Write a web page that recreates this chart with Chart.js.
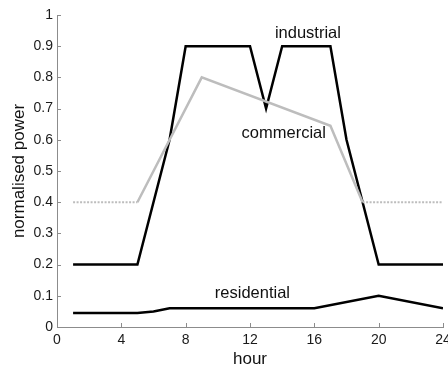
<!DOCTYPE html>
<html>
<head>
<meta charset="utf-8">
<script src="https://cdn.jsdelivr.net/npm/chart.js@4"></script>
<style>
html,body{margin:0;padding:0;background:#fff;}
#wrap{width:448px;height:365px;position:relative;}
</style>
</head>
<body>
<div id="wrap"><canvas id="c" width="448" height="365"></canvas></div>
<script>
const xTicks = [0, 4, 8, 12, 16, 20, 24];
const yTicks = [0, 0.1, 0.2, 0.3, 0.4, 0.5, 0.6, 0.7, 0.8, 0.9, 1];

const industrialHours = [1, 5, 7, 8, 12, 13, 14, 17, 18, 20, 24];
const industrialValues = [0.2, 0.2, 0.6, 0.9, 0.9, 0.7, 0.9, 0.9, 0.6, 0.2, 0.2];

const commercialHours = [1, 5, 9, 17, 19, 24];
const commercialValues = [0.4, 0.4, 0.8, 0.645, 0.4, 0.4];

const residentialHours = [1, 5, 6, 7, 16, 20, 24];
const residentialValues = [0.045, 0.045, 0.05, 0.06, 0.06, 0.1, 0.06];

const seriesLabels = ['industrial', 'commercial', 'residential'];
const labelHours = [15.6, 14.1, 12.15];
const labelValues = [0.942, 0.619, 0.109];

const FONT = '"Liberation Sans", Arial, Helvetica, sans-serif';
const AXIS = '#8c8c8c';

function pts(xs, ys) { return xs.map((x, i) => ({x: x, y: ys[i]})); }

const innerTicks = {
  id: 'innerTicks',
  afterDraw(chart) {
    const ctx = chart.ctx;
    const xs = chart.scales.x, ys = chart.scales.y;
    ctx.save();
    ctx.strokeStyle = AXIS;
    ctx.lineWidth = 1;
    ctx.beginPath();
    xTicks.forEach(v => {
      const px = Math.round(xs.getPixelForValue(v)) + 0.5;
      ctx.moveTo(px, ys.bottom);
      ctx.lineTo(px, ys.bottom - 4);
    });
    yTicks.forEach(v => {
      const py = Math.round(ys.getPixelForValue(v)) + 0.5;
      ctx.moveTo(xs.left, py);
      ctx.lineTo(xs.left + 4, py);
    });
    ctx.stroke();
    ctx.fillStyle = '#111';
    ctx.font = '16.5px ' + FONT;
    ctx.textAlign = 'center';
    ctx.textBaseline = 'middle';
    seriesLabels.forEach((t, i) => {
      ctx.fillText(t, xs.getPixelForValue(labelHours[i]), ys.getPixelForValue(labelValues[i]));
    });
    ctx.restore();
  }
};

new Chart(document.getElementById('c'), {
  type: 'line',
  data: {
    datasets: [
      {
        label: 'commercial',
        data: pts(commercialHours, commercialValues),
        borderColor: '#bdbdbd',
        borderWidth: 2.5,
        pointRadius: 0,
        tension: 0,
        segment: {
          borderDash: c => (c.p0.parsed.y === 0.4 && c.p1.parsed.y === 0.4) ? [2, 1.5] : undefined,
          borderWidth: c => (c.p0.parsed.y === 0.4 && c.p1.parsed.y === 0.4) ? 2 : 2.5
        }
      },
      {
        label: 'industrial',
        data: pts(industrialHours, industrialValues),
        borderColor: '#000',
        borderWidth: 2.5,
        pointRadius: 0,
        tension: 0
      },
      {
        label: 'residential',
        data: pts(residentialHours, residentialValues),
        borderColor: '#000',
        borderWidth: 2.5,
        pointRadius: 0,
        tension: 0
      }
    ]
  },
  options: {
    responsive: false,
    animation: false,
    events: [],
    layout: { padding: { top: 15, right: 5, left: 0, bottom: 0 } },
    plugins: { legend: { display: false }, tooltip: { enabled: false } },
    scales: {
      x: {
        type: 'linear',
        min: 0, max: 24,
        afterFit: s => { s.height = 38; s.paddingLeft = 0; s.paddingRight = 0; },
        afterBuildTicks: s => { s.ticks = xTicks.map(v => ({value: v})); },
        grid: { display: true, drawOnChartArea: false, drawTicks: false },
        border: { display: true, color: AXIS, width: 1 },
        ticks: { padding: 5, color: '#1a1a1a', font: { family: FONT, size: 14 } },
        title: { display: true, text: 'hour', color: '#111', font: { family: FONT, size: 17, lineHeight: 1 }, padding: { top: 0, bottom: -3 } }
      },
      y: {
        type: 'linear',
        min: 0, max: 1,
        afterFit: s => { s.width = 57; s.paddingTop = 0; s.paddingBottom = 0; },
        afterBuildTicks: s => { s.ticks = yTicks.map(v => ({value: v})); },
        grid: { display: true, drawOnChartArea: false, drawTicks: false },
        border: { display: true, color: AXIS, width: 1 },
        ticks: { padding: 4, color: '#1a1a1a', font: { family: FONT, size: 14 }, callback: v => String(v) },
        title: { display: true, text: 'normalised power', color: '#111', font: { family: FONT, size: 17, lineHeight: 1 }, padding: { top: 11, bottom: 0 } }
      }
    }
  },
  plugins: [innerTicks]
});
</script>
</body>
</html>
